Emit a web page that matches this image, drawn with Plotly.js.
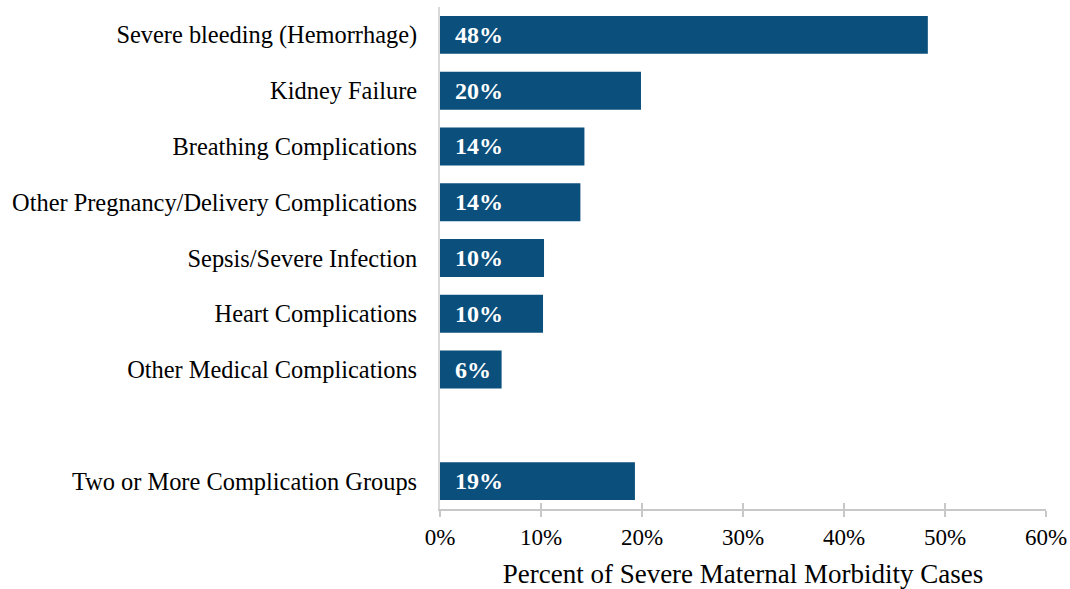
<!DOCTYPE html>
<html><head><meta charset="utf-8">
<script src="https://cdn.plot.ly/plotly-3.0.1.min.js"></script>
<style>html,body{margin:0;padding:0;background:#fff}</style>
</head><body><div id="chart" style="width:1070px;height:589px"></div>
<script>
var categories = ["Severe bleeding (Hemorrhage)","Kidney Failure","Breathing Complications","Other Pregnancy/Delivery Complications","Sepsis/Severe Infection","Heart Complications","Other Medical Complications","Two or More Complication Groups"];
var values = [48.3, 19.9, 14.3, 13.9, 10.3, 10.2, 6.1, 19.3];
var labels = ["48%","20%","14%","14%","10%","10%","6%","19%"];
var categoryOrder = categories.slice(0,7).concat([" "]).concat(categories.slice(7));
var tickVals = [0,10,20,30,40,50,60];
var tickText = ["0%","10%","20%","30%","40%","50%","60%"];

var serif = "Liberation Serif, Times New Roman, serif";
var trace = {type:"bar", orientation:"h", x:values, y:categories, width:0.68,
  marker:{color:"#0b4f7c"}, hoverinfo:"none"};
var ghost = {type:"scatter", x:[0,60], y:[categories[0],categories[0]], xaxis:"x2", mode:"markers", marker:{opacity:0}, hoverinfo:"none", showlegend:false};
var annotations = categories.map(function(c,i){
  return {x:0, y:c, xref:"x", yref:"y", text:labels[i], showarrow:false, xanchor:"left", xshift:13,
    font:{family:serif, size:24, color:"#ffffff", weight:"bold"}};
});
var layout = {
  width:1070, height:589, margin:{l:440, r:24, t:7, b:80},
  paper_bgcolor:"#fff", plot_bgcolor:"#fff", showlegend:false,
  font:{family:serif, size:23, color:"#000"},
  xaxis:{range:[0,60], tickvals:tickVals, ticktext:tickText, showgrid:false, zeroline:false,
    showline:true, linecolor:"#c8c8c8", linewidth:2, ticks:"outside", ticklen:6, tickwidth:2, tickcolor:"#c8c8c8",
    tickfont:{family:serif, size:23}, ticklabelstandoff:0,
    title:{text:"Percent of Severe Maternal Morbidity Cases", font:{family:serif, size:27}, standoff:16}},
  xaxis2:{range:[0,60], overlaying:"x", side:"bottom", tickvals:tickVals, showticklabels:false, showgrid:false,
    zeroline:false, ticks:"inside", ticklen:6, tickwidth:2, tickcolor:"#c8c8c8", showline:false},
  yaxis:{type:"category", categoryorder:"array", categoryarray:categoryOrder, autorange:false,
    range:[8.5, -0.5], showgrid:false, zeroline:false, showline:true, linecolor:"#d9d9d9", linewidth:2,
    ticks:"", ticklabelstandoff:16, tickfont:{family:serif, size:24.4}},
  annotations:annotations
};
Plotly.newPlot("chart", [trace, ghost], layout, {displayModeBar:false, staticPlot:true});
</script></body></html>
